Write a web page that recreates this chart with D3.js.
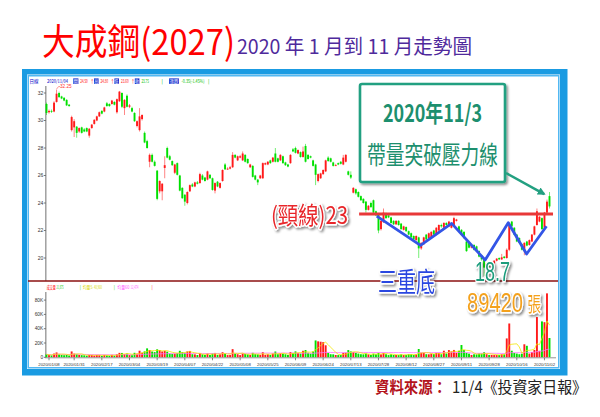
<!DOCTYPE html>
<html><head><meta charset="utf-8">
<script src="https://cdn.jsdelivr.net/npm/d3@7/dist/d3.min.js"></script>
<style>html,body{margin:0;padding:0;background:#fff}svg{display:block}</style>
</head><body>
<svg id="c" width="600" height="417"></svg>
<script>
// ---------- DATA ----------
const tradingDays = [
 ["2020/01",[7,8,9,10,13,14,15,16,17,20,30,31]],
 ["2020/02",[3,4,5,6,7,10,11,12,13,14,17,18,19,20,21,24,25,26,27]],
 ["2020/03",[2,3,4,5,6,9,10,11,12,13,16,17,18,19,20,23,24,25,26,27,30,31]],
 ["2020/04",[1,6,7,8,9,10,13,14,15,16,17,20,21,22,23,24,27,28,29,30]],
 ["2020/05",[4,5,6,7,8,11,12,13,14,15,18,19,20,21,22,25,26,27,28,29]],
 ["2020/06",[1,2,3,4,5,8,9,10,11,12,15,16,17,18,19,22,23,24,29,30]],
 ["2020/07",[1,2,3,6,7,8,9,10,13,14,15,16,17,20,21,22,23,24,27,28,29,30,31]],
 ["2020/08",[3,4,5,6,7,10,11,12,13,14,17,18,19,20,21,24,25,26,27,28,31]],
 ["2020/09",[1,2,3,4,7,8,9,10,11,14,15,16,17,18,21,22,23,24,25,28,29,30]],
 ["2020/10",[5,6,7,8,12,13,14,15,16,19,20,21,22,23,26,27,28,29,30]],
 ["2020/11",[2,3,4]]
];
const tickDates = ["2020/01/08","2020/01/31","2020/02/17","2020/03/04","2020/03/19","2020/04/07","2020/04/22","2020/05/08","2020/05/25","2020/06/09","2020/06/24","2020/07/13","2020/07/28","2020/08/12","2020/08/27","2020/09/11","2020/09/28","2020/10/16","2020/11/02"];
const priceTicks = [20,22,24,26,28,30,32];
const volumeTicks = [0,20000,40000,60000,80000];
const volumeTickLabels = ["0","20K","40K","60K","80K"];

const opens = [
31.2,30.6,30.7,30.65,31.35,32.0,31.75,31.65,31.5,31.15,
29.3,29.5,29.55,29.2,29.5,29.35,29.45,28.9,29.45,29.75,
30.0,30.3,30.7,30.65,31.25,31.2,31.2,31.35,30.6,31.4,
32.0,30.9,31.8,31.0,30.9,30.55,29.6,29.3,30.1,29.1,
28.5,27.0,27.5,27.0,26.35,24.85,24.85,26.55,28.0,27.4,
27.05,26.2,26.9,26.0,25.1,24.6,24.0,24.85,25.35,25.2,
25.5,25.45,26.0,25.85,25.7,26.05,25.8,24.9,25.55,25.1,
25.6,26.8,26.5,26.5,26.6,27.5,27.1,27.3,27.1,27.5,
27.2,26.6,26.7,26.0,25.7,25.8,25.8,26.8,26.8,27.1,
27.0,27.6,27.25,27.1,27.4,26.95,26.8,26.9,27.9,28.0,
27.6,27.7,27.35,28.15,27.5,27.4,27.1,26.8,25.6,25.8,
26.1,26.3,27.3,27.25,26.95,26.75,26.9,27.0,26.8,27.0,
26.3,26.05,24.75,25.0,24.8,24.5,24.3,24.1,23.5,24.0,
24.2,23.4,23.2,22.1,22.6,23.25,23.1,22.95,22.7,22.45,
22.7,22.5,22.05,22.25,21.95,21.8,21.6,21.3,21.5,20.7,
21.0,21.7,21.45,21.5,22.0,21.7,22.0,22.4,22.2,22.55,
22.3,22.2,22.4,22.7,22.3,22.05,21.9,21.2,21.1,20.75,
20.95,20.85,20.5,20.2,19.9,19.3,19.6,19.4,19.6,19.8,
20.0,19.9,20.1,20.0,20.6,22.65,22.2,21.7,21.45,21.0,
20.5,21.2,20.95,21.2,21.7,22.4,22.65,22.9,22.2,23.3,
24.5];
const highs = [
31.3,30.8,30.8,31.4,32.25,32.1,31.8,31.7,31.55,31.2,
30.35,30.1,29.6,29.5,29.55,29.45,29.5,29.45,29.75,30.1,
30.35,30.65,30.75,31.0,31.35,31.25,31.5,31.4,31.6,32.15,
32.05,31.55,31.9,31.2,31.0,30.6,30.0,30.9,30.45,29.2,
28.6,27.6,27.6,27.1,26.4,25.65,25.45,27.4,28.1,27.5,
27.1,26.85,26.95,26.05,25.15,24.65,24.85,25.35,25.45,25.55,
25.6,26.2,26.1,25.9,26.35,26.1,25.85,25.5,25.6,25.5,
26.45,26.9,26.6,26.7,27.7,27.55,27.45,27.5,27.75,27.55,
27.25,26.85,26.75,26.05,25.75,26.05,26.95,26.95,27.05,27.15,
27.35,28.0,27.3,27.55,27.45,27.0,26.85,27.55,28.0,28.1,
27.9,27.75,28.1,28.3,27.55,27.45,27.15,26.85,26.15,26.2,
26.45,27.15,27.4,27.3,27.0,26.85,26.95,27.05,27.5,27.55,
26.35,26.3,25.15,25.05,24.85,24.55,24.35,24.15,23.85,24.1,
24.25,23.45,23.25,22.75,23.6,23.3,23.15,23.0,22.75,22.75,
22.75,22.55,22.35,22.3,22.0,21.85,21.65,21.65,21.55,21.15,
21.55,21.75,21.85,21.95,22.05,22.25,22.45,22.5,22.6,22.6,
22.7,22.45,23.0,22.85,22.35,22.1,21.95,21.25,21.15,20.95,
21.0,20.9,20.55,20.25,19.95,19.65,19.65,19.75,19.85,20.0,
20.05,20.3,20.15,20.7,22.6,22.7,22.25,21.75,21.5,21.05,
21.15,21.25,21.35,21.75,22.35,23.6,23.05,22.95,23.35,24.25,
24.8];
const lows = [
30.4,30.5,30.55,30.6,31.3,31.65,31.55,31.4,31.05,31.0,
29.2,28.8,28.75,29.1,29.05,29.15,29.15,28.75,29.4,29.7,
29.95,30.25,30.45,30.6,31.0,31.0,31.15,31.1,30.5,31.35,
30.9,30.4,30.95,30.9,30.6,29.9,29.5,29.2,30.0,28.35,
27.95,26.6,26.95,26.65,24.2,24.7,24.2,25.8,27.25,27.1,
26.7,26.1,26.0,24.85,24.3,23.8,23.9,24.8,25.15,25.15,
25.35,25.4,25.65,25.55,25.65,25.75,24.9,24.7,25.15,25.05,
25.55,26.4,26.4,26.45,26.55,27.25,27.05,27.25,27.05,26.95,
26.85,26.55,25.85,25.65,25.3,25.75,25.75,26.75,26.75,26.85,
26.95,26.95,26.95,27.05,26.85,26.7,26.6,26.85,27.7,27.6,
27.55,27.3,27.3,26.95,27.15,27.25,26.65,25.3,25.5,25.75,
26.05,26.25,27.0,26.95,26.65,26.7,26.75,26.8,26.75,26.95,
26.0,25.75,24.7,24.6,24.4,24.15,23.95,23.3,23.45,23.65,
23.25,23.05,21.8,22.0,22.55,22.85,22.9,22.5,22.4,22.4,
22.35,22.05,22.0,21.9,21.65,21.45,21.3,21.25,20.0,20.6,
20.95,21.3,21.4,21.45,21.65,21.65,21.95,22.2,22.15,22.35,
22.25,22.15,22.35,22.65,21.9,21.65,21.4,20.45,20.7,20.7,
20.55,20.45,20.05,19.5,18.7,19.2,19.35,19.35,19.55,19.75,
19.85,19.85,19.95,19.95,20.5,22.25,21.65,21.15,21.05,20.55,
20.2,20.85,20.9,21.15,21.65,22.35,22.6,22.05,22.15,23.2,
23.6];
const closes = [
30.55,30.7,30.65,31.3,31.95,31.7,31.6,31.45,31.1,31.05,
30.25,29.95,29.1,29.45,29.1,29.2,29.2,29.4,29.7,30.05,
30.3,30.6,30.5,30.95,31.05,31.05,31.45,31.15,31.55,32.1,
31.0,31.5,31.0,31.1,30.65,29.95,29.95,30.3,30.4,28.4,
28.0,27.5,27.0,26.7,24.3,25.6,25.4,26.75,27.3,27.15,
26.75,26.8,26.05,24.9,24.35,24.1,24.8,25.3,25.2,25.5,
25.4,26.1,25.7,25.6,26.3,25.8,24.95,25.45,25.2,25.45,
26.4,26.45,26.5,26.6,27.5,27.3,27.4,27.4,27.6,27.0,
26.9,26.8,25.9,25.7,25.5,26.0,26.9,26.9,27.0,26.9,
27.3,27.0,27.0,27.5,26.9,26.75,26.65,27.5,27.75,27.65,
27.85,27.35,27.75,27.0,27.2,27.3,26.7,26.05,26.1,26.15,
26.4,27.1,27.05,27.0,26.7,26.75,26.8,26.85,27.3,27.5,
26.05,25.85,25.1,24.7,24.45,24.2,24.0,23.5,23.8,23.7,
23.3,23.1,22.0,22.7,23.3,22.9,22.95,22.55,22.45,22.7,
22.4,22.1,22.3,21.95,21.7,21.5,21.35,21.6,20.7,21.1,
21.5,21.35,21.8,21.9,21.7,22.2,22.4,22.3,22.55,22.4,
22.65,22.4,22.9,22.8,21.95,21.7,21.45,20.5,20.75,20.9,
20.6,20.5,20.1,19.9,19.3,19.6,19.4,19.7,19.8,19.95,
19.9,20.05,20.0,20.6,22.5,22.3,21.7,21.2,21.1,20.6,
21.1,20.9,21.3,21.7,22.3,23.4,23.0,22.1,23.3,24.1,
23.75];
const volumes = [
4200,3100,2800,5200,6800,4100,3300,2900,3400,2500,
8200,5100,4300,3200,3000,2800,2300,3300,3100,2400,
3200,2900,2100,3300,2700,2200,3400,2300,4300,6200,
6100,4400,5200,3100,2900,6300,5100,9200,6400,8300,
12500,10200,8100,7300,11200,10100,8200,9100,7900,5200,
4800,5100,6100,9100,7200,6300,8200,8900,4300,4100,
3200,6100,4200,3300,5300,3200,5400,6100,3400,4200,
7100,5200,3100,3300,11400,5200,4300,3100,5400,4800,
4100,3200,6300,4400,4100,3300,7200,3400,4200,3300,
5200,8100,4300,5400,5100,4200,3300,7400,6200,8300,
6100,5200,9100,10200,6300,5100,8200,23600,22300,21800,
21200,16800,6200,4300,4100,3200,3100,3300,6200,6400,
10100,8200,7300,6100,5200,4300,4100,5300,4200,3300,
5100,4200,6300,4100,6200,4300,3100,4200,3300,3200,
3300,4100,3200,3400,4300,4200,3300,4100,11600,6200,
6100,4300,4200,5100,4400,6200,6100,4300,9200,5300,
10100,8200,10300,6200,9100,17200,10100,6200,5100,3300,
4200,4100,5300,5200,7100,4300,3200,3300,3100,3400,
3300,4200,4100,26400,47300,9200,6100,5200,4300,5100,
18200,16100,5200,7300,10200,56300,9100,50200,49100,89420,
27000];

// annotation values
const neckline = {value: 23.2, from: 124.3, to: 201.4};
const tripleBottom = [[131.3,23.05],[148.7,20.92],[161.1,22.52],[174.4,19.85],[183.6,22.56],[190.9,20.29],[198.8,22.31]];
const arrowTarget = [197.9, 24.65];

// ---------- SETUP ----------
const dates = tradingDays.flatMap(([m, ds]) => ds.map(d => m + "/" + String(d).padStart(2, "0")));
const N = dates.length;
const idx = d3.range(N);
const CJK = "'Noto Sans CJK TC','Noto Sans CJK SC',sans-serif";
const LAT = "'Liberation Sans',Arial,sans-serif";
const UP = "#ff1a1a", DN = "#00e000";

const svg = d3.select("#c");
const defs = svg.append("defs");
const sh = defs.append("filter").attr("id","sh").attr("x","-20%").attr("y","-30%").attr("width","150%").attr("height","170%");
sh.append("feDropShadow").attr("dx",1.6).attr("dy",1.8).attr("stdDeviation",1.1).attr("flood-color","#000").attr("flood-opacity",0.45);
defs.append("marker").attr("id","ah").attr("viewBox","0 0 10 10").attr("refX",8).attr("refY",5)
  .attr("markerWidth",3.2).attr("markerHeight",3.2).attr("orient","auto")
  .append("path").attr("d","M0,0L10,5L0,10z").attr("fill","#23a081");

function txt(p, s, x, y, size, o = {}) {
  const t = p.append("text").attr("x", x).attr("y", y).attr("font-size", size)
    .attr("font-family", o.family || CJK).attr("fill", o.fill || "#000").text(s);
  if (o.len) t.attr("textLength", o.len).attr("lengthAdjust", "spacingAndGlyphs");
  if (o.weight) t.attr("font-weight", o.weight);
  if (o.anchor) t.attr("text-anchor", o.anchor);
  if (o.outline) t.attr("stroke", "#fff").attr("stroke-width", o.outline).attr("paint-order", "stroke").attr("stroke-linejoin", "round");
  if (o.filter) t.attr("filter", o.filter);
  return t;
}
// tiny text squeezed horizontally with a transform (so its box really is `len` wide)
function fit(p, parts, x, y, size, len) {
  const t = p.append("text").attr("x", 0).attr("y", 0).attr("font-size", size).attr("font-family", CJK);
  parts.forEach(([s, fill]) => t.append("tspan").attr("fill", fill).text(s));
  const w = t.node().getComputedTextLength() || len;
  t.attr("transform", `translate(${x},${y}) scale(${len / w},1)`);
  return t;
}

// scales
const x = d3.scalePoint().domain(dates).range([46.5, 549.5]);
const xi = d3.scaleLinear().domain([0, N - 1]).range([46.5, 549.5]);
const y = d3.scaleLinear().domain([20, 32]).range([258, 93]);
const yv = d3.scaleLinear().domain([0, 80000]).range([357.3, 300.1]);

// ---------- TITLES ----------
txt(svg, "大成鋼(2027)", 42, 55, 36, {fill: "#ff0000", len: 193});
txt(svg, "2020 年 1 月到 11 月走勢圖", 237, 54, 20, {fill: "#4f2a9c", len: 235});
txt(svg, "資料來源：", 375, 393, 16, {fill: "#b3121b", weight: "bold", len: 72});
txt(svg, "11/4《投資家日報》", 452, 393, 16, {fill: "#222", len: 135});

// ---------- FRAME ----------
svg.append("rect").attr("x",22).attr("y",69).attr("width",545.5).attr("height",306.5).attr("fill","#1a9be2");
svg.append("rect").attr("x",27).attr("y",74.5).attr("width",533).attr("height",294.5).attr("fill","#fff");
svg.append("rect").attr("x",28.25).attr("y",75.75).attr("width",530.5).attr("height",292).attr("fill","#fff").attr("stroke","#52b8f2").attr("stroke-width",1.5);

// ---------- PRICE HEADER ----------
const hdr = svg.append("g");
function hbox(xx, w) { hdr.append("rect").attr("x", xx).attr("y", 78.4).attr("width", w).attr("height", 5.6).attr("fill", "#1530d0"); }
const HY = 83, HS = 5;
fit(hdr, [["日線", "#0000c8"]], 29.5, HY, HS, 9);
fit(hdr, [["2020/11/04", "#0000c8"]], 47, HY, HS, 21);
hbox(73.2, 5.2);
fit(hdr, [["開", "#fff"]], 73.6, HY, HS, 4.4);
fit(hdr, [["24.50", "#ff0000"]], 80.2, HY, HS, 7.6);
hbox(94, 4.6);
fit(hdr, [["↑", "#ff0000"], ["高", "#fff"]], 90.2, HY, HS, 8);
fit(hdr, [["24.80", "#ff0000"]], 100.6, HY, HS, 7.6);
hbox(114.4, 4.6);
fit(hdr, [["↑", "#ff0000"], ["低", "#fff"]], 110.6, HY, HS, 8);
fit(hdr, [["23.60", "#ff0000"]], 121, HY, HS, 7.6);
hbox(134.8, 4.6);
fit(hdr, [["↑", "#ff0000"], ["收", "#fff"]], 131, HY, HS, 8);
fit(hdr, [["23.75", "#00c000"]], 141.4, HY, HS, 7.6);
fit(hdr, [["|", "#00c000"]], 161.5, HY, HS, 1.4);
hbox(169.1, 9.8);
fit(hdr, [["漲跌", "#fff"]], 169.5, HY, HS, 9);
fit(hdr, [["-0.35(-1.45%)", "#00c000"]], 181.5, HY, HS, 23);
fit(hdr, [["|", "#00c000"]], 208, HY, HS, 1.4);

// ---------- PRICE AXIS ----------
const ax = svg.append("g");
ax.append("line").attr("x1",45.8).attr("x2",45.8).attr("y1",86).attr("y2",281).attr("stroke","#9a9a9a").attr("stroke-width",1.4);
priceTicks.forEach(v => {
  ax.append("line").attr("x1",43.8).attr("x2",45.8).attr("y1",y(v)).attr("y2",y(v)).attr("stroke","#555").attr("stroke-width",0.8);
  txt(ax, String(v), 43.2, y(v) + 1.7, 5, {family: LAT, fill: "#333", anchor: "end"});
});

// separator
svg.append("line").attr("x1",28).attr("x2",558).attr("y1",281).attr("y2",281).attr("stroke","#8b1010").attr("stroke-width",1.6);

// ---------- CANDLES ----------
const cg = svg.append("g");
const col = i => closes[i] >= opens[i] ? UP : DN;
cg.selectAll("line.w").data(idx).join("line")
  .attr("x1", i => x(dates[i])).attr("x2", i => x(dates[i]))
  .attr("y1", i => y(highs[i])).attr("y2", i => y(lows[i]))
  .attr("stroke", col).attr("stroke-width", 0.9).attr("opacity", 0.6);
cg.selectAll("rect.b").data(idx).join("rect")
  .attr("x", i => x(dates[i]) - 0.95).attr("width", 1.9)
  .attr("y", i => y(Math.max(opens[i], closes[i])))
  .attr("height", i => Math.max(0.9, Math.abs(y(opens[i]) - y(closes[i]))))
  .attr("fill", col);

// max label
const maxI = d3.maxIndex(highs);
const mx = x(dates[maxI]), my = y(highs[maxI]);
cg.append("path").attr("d", `M${mx},${my - 0.5} L${mx + 2},${my - 3} L${mx + 3.5},${my - 3}`).attr("fill","none").attr("stroke","#ff5050").attr("stroke-width",0.6);
txt(cg, highs[maxI].toFixed(2), mx + 3.5, my - 2, 4.6, {family: LAT, fill: "#ff3030"});

// ---------- VOLUME ----------
const vh = svg.append("g");
const VY = 289.3, VS = 4.6;
fit(vh, [["成交量", "#ff0000"]], 46.8, VY, VS, 9);
fit(vh, [["21,875", "#00c800"]], 56.5, VY, VS, 7);
fit(vh, [["|", "#00c800"]], 79.8, VY, VS, 1.2);
fit(vh, [["均量5", "#d8d800"]], 82.7, VY, VS, 10);
fit(vh, [["40,960", "#d8d800"]], 94, VY, VS, 8);
fit(vh, [["|", "#00c800"]], 113.8, VY, VS, 1.2);
fit(vh, [["均量60", "#ff50ff"]], 117.3, VY, VS, 12);
fit(vh, [["12,474", "#ff50ff"]], 130.5, VY, VS, 8);
fit(vh, [["|", "#ff0000"]], 151.5, VY, VS, 1.2);

const vg = svg.append("g");
vg.append("line").attr("x1",45.8).attr("x2",45.8).attr("y1",292).attr("y2",358).attr("stroke","#9a9a9a").attr("stroke-width",1.4);
volumeTicks.forEach((v, k) => {
  vg.append("line").attr("x1",43.8).attr("x2",45.8).attr("y1",yv(v)).attr("y2",yv(v)).attr("stroke","#555").attr("stroke-width",0.8);
  txt(vg, volumeTickLabels[k], 43.2, yv(v) + 1.7, 4.8, {family: LAT, fill: "#333", anchor: "end"});
});
vg.selectAll("rect.v").data(idx).join("rect")
  .attr("x", i => x(dates[i]) - 0.95).attr("width", 1.9)
  .attr("y", i => yv(volumes[i])).attr("height", i => yv(0) - yv(volumes[i]))
  .attr("fill", col);

function movingAvg(arr, n) { return arr.map((_, i) => d3.mean(arr.slice(Math.max(0, i - n + 1), i + 1))); }
const ma5 = movingAvg(volumes, 5), ma60 = movingAvg(volumes, 60);
const vline = arr => d3.line().x(i => x(dates[i])).y(i => yv(arr[i]))(idx);
vg.append("path").attr("d", vline(ma60)).attr("fill","none").attr("stroke","#ff70ff").attr("stroke-width",0.8);
vg.append("path").attr("d", vline(ma5)).attr("fill","none").attr("stroke","#f2e600").attr("stroke-width",0.8);

// x axis
vg.append("line").attr("x1",45).attr("x2",556).attr("y1",357.8).attr("y2",357.8).attr("stroke","#888").attr("stroke-width",0.9);
tickDates.forEach(d => {
  const xx = x(d);
  vg.append("line").attr("x1",xx).attr("x2",xx).attr("y1",357.8).attr("y2",360.3).attr("stroke","#555").attr("stroke-width",0.7);
  txt(vg, d, xx, 365.6, 4.3, {family: LAT, fill: "#333", anchor: "middle"});
});

// ---------- ANNOTATIONS ----------
const an = svg.append("g");
an.append("line").attr("x1", xi(neckline.from)).attr("x2", xi(neckline.to))
  .attr("y1", y(neckline.value)).attr("y2", y(neckline.value)).attr("stroke","#e83838").attr("stroke-width",3);
an.append("path").attr("d", d3.line().x(d => xi(d[0])).y(d => y(d[1]))(tripleBottom))
  .attr("fill","none").attr("stroke","#3355e6").attr("stroke-width",2.8).attr("stroke-linejoin","round");

// callout box
an.append("rect").attr("x",360).attr("y",84).attr("width",145).attr("height",98).attr("rx",2)
  .attr("fill","#fff").attr("stroke","#23a081").attr("stroke-width",2.6).attr("filter","url(#sh)");
txt(an, "2020年11/3", 432.5, 122, 24, {fill: "#1d8f6e", weight: "bold", anchor: "middle", len: 99});
txt(an, "帶量突破壓力線", 432.5, 164, 25, {fill: "#1d8f6e", anchor: "middle", len: 131});
an.append("line").attr("x1",506).attr("y1",173).attr("x2",xi(arrowTarget[0])).attr("y2",y(arrowTarget[1]))
  .attr("stroke","#23a081").attr("stroke-width",2.5).attr("marker-end","url(#ah)");

txt(an, "(頸線)23", 271, 224, 24, {fill: "#e8262a", len: 77, outline: 3, filter: "url(#sh)"});
txt(an, "三重底", 378, 292, 27, {fill: "#2946e0", len: 57, outline: 3, filter: "url(#sh)"});
txt(an, "18.7", 475, 281, 27, {family: LAT, fill: "#1a9c7b", len: 35, outline: 3, filter: "url(#sh)"});
txt(an, "89420", 467, 312, 27, {family: LAT, fill: "#f4a11c", len: 56, outline: 3, filter: "url(#sh)"});
txt(an, "張", 527.5, 312, 20, {fill: "#f4a11c", len: 13.5, outline: 3, filter: "url(#sh)"});
</script>
</body></html>
